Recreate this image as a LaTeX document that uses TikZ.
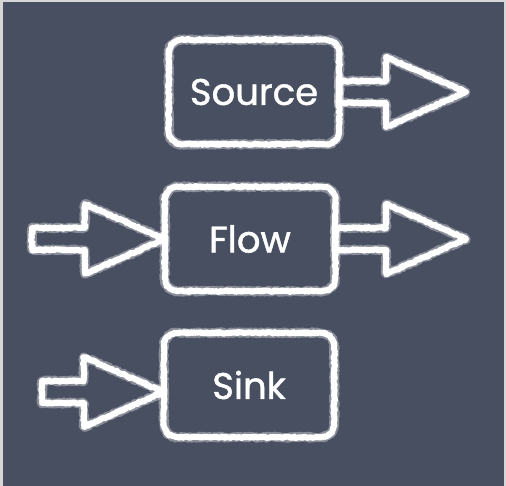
\documentclass[tikz,border=0pt]{standalone}
\usepackage{fontspec}
\setmainfont{Poppins}
\newfontfamily\chalkfont{Poppins}[FakeBold=1.2]
\usetikzlibrary{positioning}
\usetikzlibrary{calc,decorations.pathmorphing}

\definecolor{board}{RGB}{72,79,96}
\definecolor{frame}{RGB}{214,214,216}

\tikzset{
  chalk/.style={line join=round, line cap=round,
    postaction={draw=white, opacity=.35, line width=9pt, sharp corners, decorate,
      decoration={random steps, segment length=1pt, amplitude=1.1pt}},
    postaction={draw=white, line width=6pt, sharp corners, decorate,
      decoration={random steps, segment length=1.2pt, amplitude=.8pt}}},
  stage/.style={minimum width=170pt, minimum height=104pt, text=white,
    font=\chalkfont\fontsize{37}{40}\selectfont},
}

% block arrow from #1 to the tip #2
\newcommand{\chalkarrow}[2]{%
  \path[chalk] let \p1=(#1), \p2=(#2) in
    (\x1,\y1+11pt) -- (\x2-80pt,\y1+11pt) -- (\x2-80pt,\y1+35pt) -- (\x2,\y1)
    -- (\x2-80pt,\y1-35pt) -- (\x2-80pt,\y1-11pt) -- (\x1,\y1-11pt) -- cycle;
}

\begin{document}
\begin{tikzpicture}[x=1pt,y=1pt]
    \fill[frame] (0,0) rectangle (506,486);
    \fill[board] (3,0) rectangle (504,484);

    \node (src)  [stage] at (254,394) {Source};
    \node (flow) [stage] at (250,247) {Flow};
    \node (sink) [stage] at (249,101) {Sink};

    \foreach \n in {src,flow,sink} {
      \path[chalk, rounded corners=13pt] (\n.south west) rectangle (\n.north east);
    }

    \coordinate (srcout)  at (466,394);
    \coordinate (flowout) at (466,247);
    \coordinate (flowin)  at (32,247);
    \coordinate (sinkin)  at (42,94);

    \chalkarrow{src.east}{srcout}
    \chalkarrow{flow.east}{flowout}
    \chalkarrow{flowin}{flow.west}
    \chalkarrow{sinkin}{sink.west|-sinkin}

\end{tikzpicture}
\end{document}
